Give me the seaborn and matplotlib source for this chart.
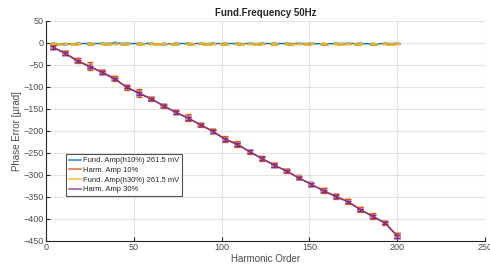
#!/usr/bin/env python3
"""
    Phase error vs harmonic order at fundamental frequency 50Hz
"""
import numpy as np
import pandas as pd
import matplotlib
matplotlib.use("Agg")
import matplotlib.pyplot as plt
from matplotlib.lines import Line2D
import seaborn as sns

# harmonic orders
harmonics = [4, 11, 18, 25, 32, 39, 46, 53, 60, 67, 74, 81, 88, 95, 102,
             109, 116, 123, 130, 137, 144, 151, 158, 165, 172, 179, 186, 193, 200]

# fundamental amplitude (h10%) phase error and uncertainty
fund10 = [-2, -3, -2, -2, -2, -1, -2, -2, -2, -3, -2, -2, -2, -2, -2,
          -2, -2, -2, -2, -2, -2, -2, -3, -2, -2, -2, -3, -2, -2]
fund10_err = [1, 1, 1, 2, 1, 1, 1, 1, 1, 1, 1, 1, 1, 1, 1,
              1, 2, 1, 1, 1, 1, 1, 1, 1, 1, 1, 1, 1, 1]

# harmonic amplitude 10% phase error and uncertainty
harm10 = [-10, -24, -41, -54, -67, -81, -102, -114, -128, -144, -158, -171, -187, -201, -219,
          -230, -248, -263, -278, -292, -307, -322, -336, -349, -361, -379, -394, -410, -438]
harm10_err = [4, 4, 6, 9, 5, 6, 5, 9, 4, 5, 5, 8, 5, 4, 7,
              7, 5, 5, 4, 5, 4, 4, 5, 6, 5, 5, 6, 4, 5]

# fundamental amplitude (h30%) phase error and uncertainty
fund30 = [-2, -2, -2, -2, -2, -2, -2, -2, -2, -2, -2, -2, -2, -2, -2,
          -2, -2, -2, -2, -2, -2, -2, -2, -2, -2, -2, -2, -2, -2]
fund30_err = [1, 1, 1, 1, 2, 1, 1, 1, 2, 1, 1, 1, 1, 1, 1,
              1, 1, 1, 1, 1, 1, 1, 1, 1, 1, 1, 1, 1, 1]

# harmonic amplitude 30% phase error and uncertainty
harm30 = [-11, -25, -42, -55, -68, -83, -101, -116, -128, -144, -159, -172, -187, -202, -220,
          -232, -248, -264, -279, -292, -308, -322, -337, -350, -362, -380, -395, -410, -440]
harm30_err = [3, 3, 3, 3, 3, 3, 3, 3, 3, 3, 3, 3, 3, 3, 3,
              3, 3, 3, 3, 3, 3, 3, 3, 3, 3, 3, 3, 3, 3]

labels = ["Fund. Amp(h10%) 261.5 mV", "Harm. Amp 10%",
          "Fund. Amp(h30%) 261.5 mV", "Harm. Amp 30%"]
colors = ["#0072BD", "#D95319", "#EDB120", "#7E2F8E"]
light = ["#5fa0d4", "#e8906a", "#f3cc6e", "#a878b2"]


def main():
    sns.set_theme(style="whitegrid")
    plt.rcParams["font.family"] = ["Liberation Sans", "DejaVu Sans"]

    frame = pd.DataFrame({
        "h": harmonics * 4,
        "val": fund10 + harm10 + fund30 + harm30,
        "err": fund10_err + harm10_err + fund30_err + harm30_err,
        "series": sum([[lab] * len(harmonics) for lab in labels], []),
    })

    fig = plt.figure(figsize=(4.9, 2.68), dpi=100)
    ax = fig.add_axes([0.094, 0.102, 0.896, 0.821])

    styles = ["-", "-", (0, (3, 3)), "-"]
    widths = [1.0, 1.0, 2.0, 1.0]
    msizes = [8, 22, 0, 22]
    for lab, col, lc, ls, lw, ms in zip(labels, colors, light, styles, widths, msizes):
        sub = frame[frame["series"] == lab]
        sns.lineplot(data=sub, x="h", y="val", ax=ax, color=col, linestyle=ls,
                     linewidth=lw, label=lab, legend=False, zorder=3)
        ax.errorbar(sub["h"], sub["val"], yerr=sub["err"], fmt="none",
                    ecolor=col, elinewidth=0.9, capsize=2.5, capthick=0.9, zorder=4)
        if ms:
            ax.scatter(sub["h"], sub["val"], marker="s", s=ms, color=lc,
                       alpha=0.5, edgecolors="none", zorder=2)

    ax.set_xlim(0, 250)
    ax.set_ylim(-450, 50)
    ax.set_xticks([0, 50, 100, 150, 200, 250])
    ax.set_yticks(np.arange(-450, 51, 50))
    ax.grid(True, color="#e3e3e3", linewidth=0.8)
    for side in ["top", "right"]:
        ax.spines[side].set_visible(False)
    for side in ["left", "bottom"]:
        ax.spines[side].set_color("#262626")
        ax.spines[side].set_linewidth(0.8)
    ax.tick_params(axis="both", direction="in", length=3, width=0.8,
                   color="#262626", labelsize=6.5, labelcolor="#4d4d4d", pad=2,
                   left=True, bottom=True)

    ax.set_title("Fund.Frequency 50Hz", fontsize=7, fontweight="bold", pad=3)
    ax.set_xlabel("Harmonic Order", fontsize=7, color="#4d4d4d", labelpad=1)
    ax.set_ylabel("Phase Error [\u00b5rad]", fontsize=7, color="#4d4d4d", labelpad=1)

    handles = [Line2D([0], [0], color=c, linewidth=1.5) for c in light]
    leg = ax.legend(handles, labels, loc="upper left", bbox_to_anchor=(0.037, 0.41),
                    fontsize=5.5, frameon=True, fancybox=False, borderpad=0.35,
                    labelspacing=0.3, handlelength=1.6, handletextpad=0.3)
    leg.get_frame().set_edgecolor("#262626")
    leg.get_frame().set_linewidth(0.8)

    fig.savefig("out.png", dpi=100)


if __name__ == "__main__":
    main()
